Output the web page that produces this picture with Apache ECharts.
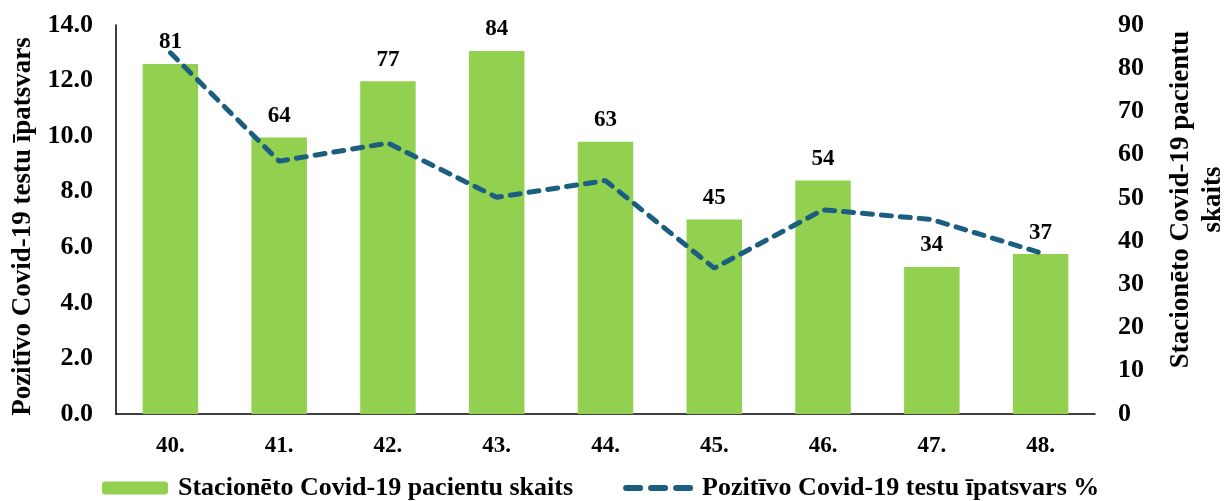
<!DOCTYPE html>
<html>
<head>
<meta charset="utf-8">
<script src="https://cdn.jsdelivr.net/npm/echarts@6/dist/echarts.min.js"></script>
<style>
  html, body { margin: 0; padding: 0; background: #fff; }
  #chart { width: 1224px; height: 501px; }
</style>
</head>
<body>
<div id="chart"></div>
<script>
const weeks = ['40.', '41.', '42.', '43.', '44.', '45.', '46.', '47.', '48.'];
const patients = [81, 64, 77, 84, 63, 45, 54, 34, 37];
const positiveShare = [13.0, 9.1, 9.75, 7.8, 8.4, 5.25, 7.35, 7.0, 5.8];

const barName = 'Stacionēto Covid-19 pacientu skaits';
const lineName = 'Pozitīvo Covid-19 testu īpatsvars %';

const font = "'Liberation Serif', 'Times New Roman', serif";
const lineColor = '#1b5e80';

var chartDom = document.getElementById('chart');
var myChart = echarts.init(chartDom);

var option = {
    animation: false,
    textStyle: {fontFamily: font, fontWeight: 'bold', color: '#000'},
    grid: {left: 116, right: 129, top: 25, bottom: 87, outerBoundsMode: 'none', containLabel: false},
    legend: {
        left: 97,
        top: 470,
        itemWidth: 66,
        itemHeight: 13,
        itemGap: 50,
        textStyle: {fontFamily: font, fontWeight: 'bold', fontSize: 26, color: '#000', padding: [0, 0, 0, 5]},
        data: [
            barName,
            {
                name: lineName,
                itemStyle: {opacity: 0, color: 'rgba(0,0,0,0)', borderWidth: 0},
                lineStyle: {color: lineColor, width: 6, type: [14, 11], cap: 'round'}
            }
        ]
    },
    xAxis: {
        type: 'category',
        data: weeks,
        axisLine: {lineStyle: {color: '#000', width: 1.5}},
        axisTick: {show: false},
        axisLabel: {margin: 21, fontFamily: font, fontWeight: 'bold', fontSize: 23, color: '#000'}
    },
    yAxis: [
        {
            type: 'value',
            min: 0,
            max: 14,
            interval: 2,
            name: 'Pozitīvo Covid-19 testu īpatsvars',
            nameLocation: 'middle',
            nameRotate: 90,
            nameGap: 79,
            nameTextStyle: {fontFamily: font, fontWeight: 'bold', fontSize: 27, color: '#000', padding: [0, 14, 0, 0]},
            axisLine: {show: true, lineStyle: {color: '#000', width: 1.5}},
            axisTick: {show: false},
            splitLine: {show: false},
            axisLabel: {
                margin: 23,
                fontFamily: font, fontWeight: 'bold', fontSize: 26, color: '#000',
                formatter: v => v.toFixed(1)
            }
        },
        {
            type: 'value',
            min: 0,
            max: 90,
            interval: 10,
            position: 'right',
            name: 'Stacionēto Covid-19 pacientu\nskaits',
            nameLocation: 'middle',
            nameRotate: 90,
            nameGap: 70,
            nameTextStyle: {fontFamily: font, fontWeight: 'bold', fontSize: 27, color: '#000', lineHeight: 32, padding: [0, 0, 0, 40]},
            axisLine: {show: false},
            axisTick: {show: false},
            splitLine: {show: false},
            axisLabel: {margin: 23, fontFamily: font, fontWeight: 'bold', fontSize: 26, color: '#000'}
        }
    ],
    series: [
        {
            name: barName,
            type: 'bar',
            yAxisIndex: 1,
            data: patients,
            barWidth: '51%',
            itemStyle: {color: '#92d050'},
            label: {
                show: true,
                position: 'top',
                distance: 10,
                fontFamily: font, fontWeight: 'bold', fontSize: 23, color: '#000'
            },
            z: 2
        },
        {
            name: lineName,
            type: 'line',
            yAxisIndex: 0,
            data: positiveShare,
            symbol: 'none',
            lineStyle: {color: lineColor, width: 5, type: [10, 9], cap: 'round'},
            itemStyle: {color: lineColor},
            z: 3
        }
    ]
};

myChart.setOption(option);
</script>
</body>
</html>
